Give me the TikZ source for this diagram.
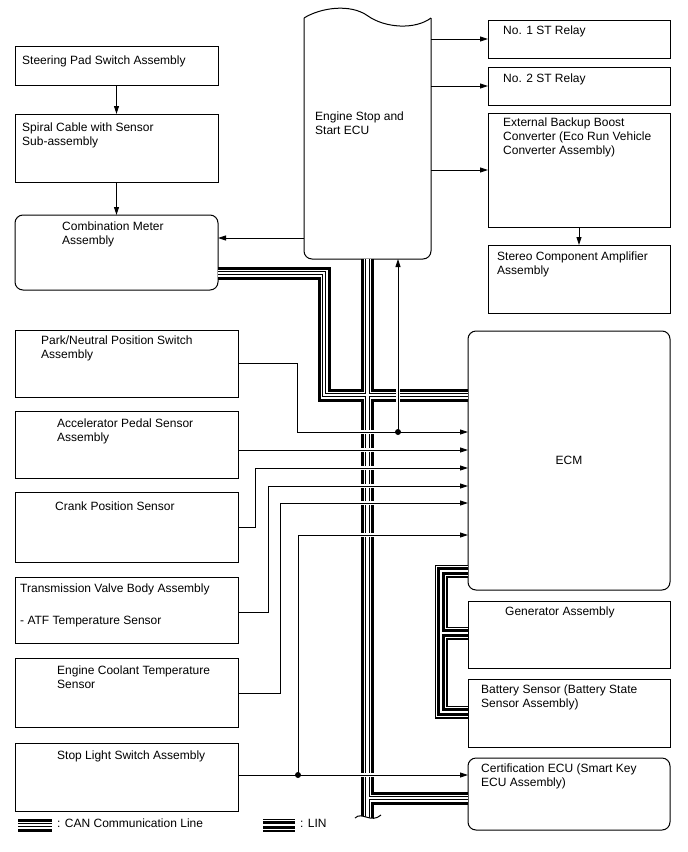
\documentclass[tikz,border=0pt]{standalone}
\usepackage{fontspec}
\setmainfont{Liberation Sans}
\usetikzlibrary{arrows.meta}

\begin{document}
\begin{tikzpicture}[
  x=1pt, y=-1pt,
  font=\fontsize{12pt}{14pt}\selectfont,
  box/.style    = {draw, line width=1pt, inner sep=0pt, outer sep=0pt,
                   anchor=north west},
  rbox/.style   = {box, rounded corners=8pt},
  txt/.style    = {anchor=north west, inner sep=0pt, align=left},
  arr/.style    = {-{Triangle[length=8pt,width=5pt]}, line width=0.9pt},
  sig/.style    = {arr, preaction={draw=white, line width=4pt, -,
                   shorten >=3pt, shorten <=3pt}},
  canbus/.style = {line width=13pt,
                   postaction={draw=white, line width=7pt},
                   postaction={draw=black, line width=4.4pt},
                   postaction={draw=white, line width=2.2pt}},
  linbus/.style = {line width=13pt,
                   postaction={draw=white, line width=10.6pt},
                   postaction={draw=black, line width=7.6pt},
                   postaction={draw=white, line width=2pt}}
]
\useasboundingbox (0,0) rectangle (688,852);

\node[box, minimum width=203pt, minimum height=39pt] (steer) at (15,46) {};
\node[box, minimum width=203pt, minimum height=68pt] (spiral) at (15,114) {};
\node[rbox, minimum width=203pt, minimum height=75pt] (combo) at (15,215) {};
\node[box, minimum width=223pt, minimum height=67pt] (park) at (15,330) {};
\node[box, minimum width=223pt, minimum height=67pt] (accel) at (15,411) {};
\node[box, minimum width=223pt, minimum height=70pt] (crank) at (15,492) {};
\node[box, minimum width=223pt, minimum height=66pt] (trans) at (15,577) {};
\node[box, minimum width=223pt, minimum height=69pt] (coolant) at (15,658) {};
\node[box, minimum width=223pt, minimum height=68pt] (stoplt) at (15,743) {};

\node[box, draw=none, minimum width=127pt, minimum height=241pt] (ecu) at (304,18) {};
\draw[line width=1pt, rounded corners=8pt] (ecu.north west) -- (ecu.south west)
     -- (ecu.south east) -- (ecu.north east);
\draw[line width=1pt] (304,18) .. controls (320,8) and (350,3) .. (368,16)
     .. controls (385,28) and (415,30) .. (431,18);

\node[box, minimum width=182pt, minimum height=38pt] (relay1) at (488,20) {};
\node[box, minimum width=182pt, minimum height=38pt] (relay2) at (488,67) {};
\node[box, minimum width=182pt, minimum height=114pt] (boost) at (488,113) {};
\node[box, minimum width=182pt, minimum height=68pt] (stereo) at (488,245) {};
\node[rbox, minimum width=202pt, minimum height=259pt] (ecm) at (468,331) {ECM};
\node[box, minimum width=202pt, minimum height=67pt] (gen) at (468,601) {};
\node[box, minimum width=202pt, minimum height=68pt] (batt) at (468,679) {};
\node[rbox, minimum width=202pt, minimum height=72pt] (cert) at (468,758) {};

\node[txt] (steertxt) at (22,56) {Steering Pad Switch Assembly};
\node[txt] (spiraltxt) at (22,123) {Spiral Cable with Sensor\\Sub-assembly};
\node[txt] (combotxt) at (62,222) {Combination Meter\\Assembly};
\node[txt] (parktxt) at (41,336) {Park/Neutral Position Switch\\Assembly};
\node[txt] (acceltxt) at (57,419) {Accelerator Pedal Sensor\\Assembly};
\node[txt] (cranktxt) at (55,502) {Crank Position Sensor};
\node[txt] (transtxt) at (20,584)
     {Transmission Valve Body Assembly\\[18pt]- ATF Temperature Sensor};
\node[txt] (coolanttxt) at (57,666) {Engine Coolant Temperature\\Sensor};
\node[txt] (stoptxt) at (57,751) {Stop Light Switch Assembly};
\node[txt] (ecutxt) at (315,112) {Engine Stop and\\Start ECU};
\node[txt] (relay1txt) at (503,26) {No. 1 ST Relay};
\node[txt] (relay2txt) at (503,74) {No. 2 ST Relay};
\node[txt] (boosttxt) at (503,118)
     {External Backup Boost\\Converter (Eco Run Vehicle\\Converter Assembly)};
\node[txt] (stereotxt) at (497,252) {Stereo Component Amplifier\\Assembly};
\node[txt] (gentxt) at (505,607) {Generator Assembly};
\node[txt] (batttxt) at (481,685) {Battery Sensor (Battery State\\Sensor Assembly)};
\node[txt] (certtxt) at (481,764) {Certification ECU (Smart Key\\ECU Assembly)};

\draw[canbus] (combo.east |- 0,273) -- (324,273) -- (324,395) -- (ecm.west |- 0,395)
      (ecu.south) -- (ecu.south |- 0,822)
      (ecu.south |- 0,798) -- (cert.west |- 0,798);
\draw[linbus] (ecm.west |- 0,571) -- (441,571) -- (441,712) -- (batt.west |- 0,712)
      (441,633) -- (gen.west |- 0,633);

\fill[white] (355,818) .. controls (362,811) and (371,824) .. (381,815)
      -- (381,828) -- (355,828) -- cycle;
\draw[line width=1pt] (355,818) .. controls (362,811) and (371,824) .. (381,815);

\draw[arr] (steer.south) -- (spiral.north);
\draw[arr] (spiral.south) -- (combo.north);
\draw[arr] (ecu.west |- 0,238) -- (combo.east |- 0,238);
\draw[arr] (ecu.east |- relay1.west) -- (relay1.west);
\draw[arr] (ecu.east |- relay2.west) -- (relay2.west);
\draw[arr] (ecu.east |- boost.west) -- (boost.west);
\draw[arr] (boost.south) -- (stereo.north);

\coordinate (pnj) at (398,432);
\coordinate (stj) at (298,775);
\draw[sig] (park.east |- 0,363) -- (297,363) -- (297,432) -- (ecm.west |- pnj);
\draw[sig] (pnj) -- (pnj |- ecu.south);
\draw[sig] (accel.east |- 0,450) -- (ecm.west |- 0,450);
\draw[sig] (crank.east |- 0,527) -- (255,527) -- (255,468) -- (ecm.west |- 0,468);
\draw[sig] (trans.east |- 0,612) -- (268,612) -- (268,486) -- (ecm.west |- 0,486);
\draw[sig] (coolant.east |- 0,693) -- (280,693) -- (280,503) -- (ecm.west |- 0,503);
\draw[sig] (stoplt.east |- stj) -- (cert.west |- stj);
\draw[sig] (stj) -- (298,535) -- (ecm.west |- 0,535);
\fill (pnj) circle (3);
\fill (stj) circle (3);

\coordinate (canA) at (18,825);
\coordinate (canB) at (52,825);
\draw[canbus] (canA) -- (canB);
\node[anchor=west, inner sep=0pt] (cantxt) at (57,823) {: CAN Communication Line};
\coordinate (linA) at (263,825);
\coordinate (linB) at (295,825);
\draw[linbus] (linA) -- (linB);
\node[anchor=west, inner sep=0pt] (lintxt) at (300,823) {: LIN};

\end{tikzpicture}
\end{document}
